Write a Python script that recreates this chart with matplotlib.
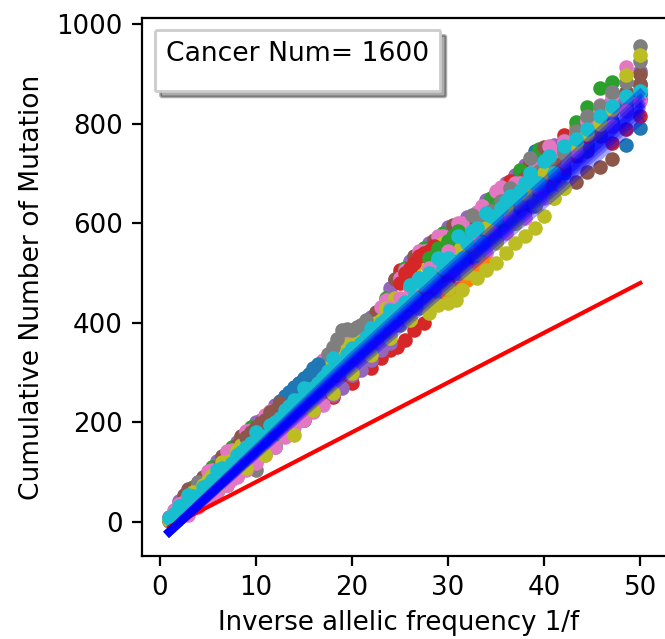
import matplotlib
matplotlib.use("Agg")
import matplotlib.pyplot as plt
from matplotlib.lines import Line2D

plt.rcParams['font.size'] = 9.35

# inverse allelic frequency columns, they get wider towards f=0.02
inv_f = [1, 2, 3, 4, 5, 6, 7, 8, 9, 10, 11, 12, 13, 14, 15, 16, 17, 18, 19, 20,
         21, 22, 23, 24, 25, 26, 27, 28, 29, 30, 31, 32, 33, 34, 35, 36, 37, 38, 39, 40,
         41, 42.1, 43.3, 44.5, 45.8, 47.1, 48.5, 50]
# denser columns further down
inv_f_mid = [1.5, 2.5, 3.5, 4.5, 5.5, 6.5, 7.5, 8.5, 9.5, 10.5, 11.5, 12.5, 13.5, 14.5, 15.5,
             16.5, 17.5, 18.5, 19.5, 20.5, 21.5, 22.5, 23.5, 24.5, 25.5, 26.5, 27.5, 28.5, 29.5, 30.5]
inv_f_high = [31.5, 32.5, 33.5, 34.5, 35.5, 36.5, 37.5, 38.5, 39.5, 40.5]
inv_f_end = [42.1, 43.3, 44.5, 45.8, 47.1, 48.5, 50]

# cumulative mutation counts, one list per dot colour
c_blue = [3, 25, 40, 68, 60, 85, 130, 150, 120, 135, 205, 225, 190, 208, 275, 292, 262, 280, 355, 330,
          345, 405, 420, 395, 410, 520, 470, 470, 565, 500, 520, 600, 550, 570, 660, 610, 690, 640, 744, 690,
          706, 730, 745, 770, 790, 847, 757, 791]
c_orange = [1, 10, 58, 50, 95, 115, 80, 100, 175, 190, 150, 170, 245, 260, 225, 245, 318, 338, 300, 375,
            390, 360, 375, 460, 410, 430, 535, 555, 480, 500, 595, 540, 560, 640, 585, 600, 625, 705, 660, 680,
            700, 724, 794, 760, 817, 800, 835, 860]
c_green = [8, 38, 30, 75, 48, 120, 140, 110, 130, 195, 160, 230, 180, 265, 230, 300, 255, 340, 310, 325,
           345, 408, 365, 400, 500, 440, 460, 555, 570, 500, 520, 605, 615, 565, 590, 675, 620, 640, 735, 670,
           750, 742, 804, 833, 871, 884, 860, 877]
c_red = [5, 20, 62, 40, 100, 68, 138, 105, 180, 145, 212, 175, 250, 205, 285, 250, 320, 280, 360, 310,
         392, 350, 428, 385, 505, 420, 542, 450, 572, 485, 590, 520, 618, 555, 660, 595, 692, 625, 700, 660,
         680, 777, 740, 755, 785, 800, 830, 850]
c_purple = [10, 42, 25, 80, 55, 122, 90, 160, 115, 200, 155, 235, 195, 270, 235, 305, 270, 345, 300, 382,
            340, 412, 360, 470, 405, 525, 435, 560, 470, 592, 505, 612, 540, 646, 575, 680, 697, 717, 650, 720,
            757, 750, 772, 790, 820, 840, 860, 880]
c_brown = [6, 30, 66, 35, 90, 110, 75, 155, 120, 175, 145, 225, 185, 240, 225, 290, 262, 325, 295, 384,
           335, 395, 350, 430, 400, 500, 440, 530, 465, 570, 500, 590, 535, 625, 570, 650, 605, 690, 720, 753,
           725, 767, 682, 703, 713, 729, 864, 900]
c_pink = [9, 36, 20, 72, 102, 60, 142, 95, 182, 125, 215, 165, 252, 195, 288, 235, 325, 270, 365, 305,
          395, 345, 432, 375, 490, 410, 545, 445, 575, 470, 600, 505, 622, 540, 665, 580, 680, 610, 710, 650,
          745, 760, 780, 805, 837, 855, 914, 870]
c_gray = [2, 15, 50, 80, 45, 100, 85, 125, 165, 105, 195, 150, 220, 258, 205, 275, 245, 310, 350, 295,
          330, 385, 345, 450, 395, 480, 430, 510, 460, 545, 500, 570, 535, 610, 565, 640, 600, 670, 635, 714,
          670, 750, 770, 795, 815, 864, 884, 956]
c_olive = [4, 28, 45, 60, 85, 75, 120, 145, 108, 170, 135, 205, 240, 175, 265, 225, 300, 260, 335, 300,
           370, 335, 405, 370, 440, 405, 480, 440, 520, 470, 550, 500, 540, 590, 560, 630, 600, 660, 640, 700,
           650, 670, 760, 780, 800, 830, 897, 937]
c_cyan = [7, 33, 55, 45, 75, 105, 100, 135, 150, 180, 165, 200, 225, 245, 270, 255, 290, 330, 320, 350,
          360, 390, 400, 425, 430, 475, 490, 500, 530, 530, 575, 560, 590, 620, 610, 645, 650, 680, 680, 725,
          700, 755, 770, 790, 815, 835, 855, 865]

m_green = [20, 30, 70, 60, 110, 100, 150, 140, 190, 170, 220, 200, 258, 240, 295,
           280, 330, 310, 370, 350, 400, 370, 450, 420, 510, 450, 550, 490, 580, 530]
m_purple = [10, 50, 45, 88, 80, 130, 115, 170, 155, 205, 190, 240, 225, 275, 260,
            312, 290, 350, 330, 385, 360, 420, 400, 485, 440, 530, 480, 565, 520, 595]
m_brown = [5, 54, 50, 91, 65, 132, 105, 172, 140, 200, 175, 243, 210, 279, 250,
           315, 280, 355, 315, 388, 350, 422, 385, 488, 425, 535, 465, 567, 505, 596]
m_pink = [24, 40, 35, 70, 105, 90, 145, 125, 185, 160, 222, 190, 260, 225, 290,
          265, 333, 300, 368, 335, 398, 365, 445, 400, 505, 440, 545, 475, 575, 510]
m_olive = [15, 25, 60, 75, 95, 120, 125, 155, 175, 185, 205, 215, 245, 255, 280,
           295, 310, 335, 355, 365, 380, 400, 430, 450, 480, 510, 520, 540, 560, 570]
m_cyan = [16, 34, 52, 70, 84, 108, 119, 140, 158, 172, 195, 208, 232, 244, 268,
          279, 303, 314, 338, 349, 372, 384, 408, 418, 441, 452, 476, 486, 510, 521]

h_blue = [590, 555, 620, 600, 660, 625, 700, 650, 730, 700]
h_red = [560, 610, 590, 640, 620, 685, 650, 720, 690, 745]
h_green = [540, 595, 570, 650, 600, 640, 707, 665, 748, 720]
h_pink = [600, 575, 634, 585, 672, 610, 680, 690, 670, 755]
h_gray = [575, 617, 600, 625, 645, 670, 640, 730, 705, 730]
h_cyan = [530, 585, 560, 615, 630, 655, 665, 700, 680, 735]

e_blue = [700, 745, 760, 790, 805, 840, 860]
e_red = [710, 735, 775, 810, 760, 790, 815]
e_purple = [725, 760, 790, 800, 825, 850, 905]
e_brown = [755, 770, 745, 775, 831, 864, 880]
e_pink = [765, 745, 805, 825, 795, 825, 845]
e_gray = [740, 785, 815, 835, 864, 884, 925]

# clusters that stand out along the upper edge
top_gray_x = [17.5, 18, 18.5, 19, 19.5, 20, 20.5, 21, 21.5]
top_gray_y = [338, 352, 368, 385, 388, 385, 392, 395, 405]
top_blue_x = [12.5, 13, 13.5, 14, 14.5, 15, 15.5, 16, 16.5]
top_blue_y = [240, 252, 262, 272, 280, 290, 298, 310, 318]
top_brown_x = [9, 9.5, 10, 10.5, 11, 11.5, 12, 12.5]
top_brown_y = [170, 180, 190, 198, 205, 220, 225, 238]
top_red_x = [25, 25.5, 26, 26.5, 27, 27.5, 28, 28.5]
top_red_y = [480, 500, 510, 520, 535, 540, 545, 555]
top_green_x = [28, 28.5, 29, 29.5, 30, 30.5, 31]
top_green_y = [530, 535, 550, 550, 565, 575, 585]
top_pink_x = [24, 25, 26, 27, 28, 29, 30]
top_pink_y = [430, 450, 470, 490, 510, 525, 545]

# dots that fall under the fitted lines
low_pink_x = [3, 4, 5, 6, 7, 7.4, 8, 9, 10, 11, 12, 13, 14, 15, 16, 17]
low_pink_y = [14, 30, 46, 60, 74, 84, 90, 104, 118, 135, 150, 170, 190, 205, 220, 235]
low_green_x = [6, 8, 10, 12, 13.6, 15, 16]
low_green_y = [62, 92, 122, 155, 178, 205, 225]
low_red_x = [18, 20, 22, 23, 24, 24.7, 25.5, 26.5, 27.5]
low_red_y = [250, 280, 310, 330, 345, 351, 365, 385, 400]
low_purple_x = [18, 19, 20, 21, 22, 23, 24]
low_purple_y = [255, 270, 295, 305, 325, 345, 360]
low_orange_x = [30, 31, 32, 33, 34]
low_orange_y = [455, 470, 486, 505, 520]
low_olive_x = [28, 29, 30, 30.8, 31.5, 33, 34, 35, 36, 37, 38, 39, 40, 41, 42.1]
low_olive_y = [420, 435, 440, 446, 465, 490, 505, 520, 540, 560, 575, 590, 615, 650, 670]

# fitted lines, drawn on top of the dots
fit_x = [1, 10, 20, 30, 40, 50]
fit_lines = [
    [-20, 134, 304, 472, 638, 806],
    [-20, 136, 310, 479, 647, 817],
    [-20, 138, 314, 485, 653, 825],
    [-20, 139, 317, 488, 658, 830],
    [-20, 140, 318, 490, 660, 833],
    [-20, 141, 319, 492, 662, 836],
    [-20, 142, 322, 495, 667, 841],
    [-20, 144, 326, 501, 673, 849],
    [-20, 146, 332, 508, 682, 860],
]
ref_x = [1, 50]
ref_y = [-10, 480]

W, H = 665, 639
fig = plt.figure(figsize=(W / 200, H / 200), dpi=200)
# axes placed from pixel positions, the right spine falls outside the crop
ax = fig.add_axes([142.3 / W, 1 - 555.7 / H, (667 - 142.3) / W, (555.7 - 18.3) / H])

layers = [
    (inv_f, c_blue, 'tab:blue'), (inv_f, c_orange, 'tab:orange'), (inv_f, c_green, 'tab:green'),
    (inv_f, c_red, 'tab:red'), (inv_f, c_purple, 'tab:purple'),
    (inv_f_high, h_blue, 'tab:blue'), (inv_f_high, h_red, 'tab:red'), (inv_f_high, h_green, 'tab:green'),
    (inv_f_end, e_blue, 'tab:blue'), (inv_f_end, e_red, 'tab:red'), (inv_f_end, e_purple, 'tab:purple'),
    (inv_f_mid, m_green, 'tab:green'), (inv_f_mid, m_purple, 'tab:purple'), (inv_f_mid, m_brown, 'tab:brown'),
    (inv_f, c_brown, 'tab:brown'), (inv_f, c_pink, 'tab:pink'), (inv_f, c_gray, 'tab:gray'),
    (inv_f_end, e_brown, 'tab:brown'), (inv_f_end, e_pink, 'tab:pink'), (inv_f_end, e_gray, 'tab:gray'),
    (inv_f_high, h_pink, 'tab:pink'), (inv_f_high, h_gray, 'tab:gray'),
    (low_green_x, low_green_y, 'tab:green'), (low_red_x, low_red_y, 'tab:red'),
    (low_purple_x, low_purple_y, 'tab:purple'), (low_orange_x, low_orange_y, 'tab:orange'),
    (low_pink_x, low_pink_y, 'tab:pink'), (low_olive_x, low_olive_y, 'tab:olive'),
    (inv_f_mid, m_pink, 'tab:pink'), (inv_f_mid, m_olive, 'tab:olive'), (inv_f, c_olive, 'tab:olive'),
    (top_gray_x, top_gray_y, 'tab:gray'), (top_blue_x, top_blue_y, 'tab:blue'),
    (top_brown_x, top_brown_y, 'tab:brown'), (top_red_x, top_red_y, 'tab:red'),
    (top_green_x, top_green_y, 'tab:green'), (top_pink_x, top_pink_y, 'tab:pink'),
    (inv_f, c_cyan, 'tab:cyan'), (inv_f_mid, m_cyan, 'tab:cyan'), (inv_f_high, h_cyan, 'tab:cyan'),
]
for xs, ys, col in layers:
    ax.scatter(xs, ys, s=18, color=col, zorder=2)

ax.plot(ref_x, ref_y, color='r', lw=1.5, zorder=3)
for vals in fit_lines:
    ax.plot(fit_x, vals, color='b', lw=3, alpha=0.35, zorder=4)

ax.set_xlim(-1.8, 52.78)
ax.set_ylim(-67.7, 1011.4)
ax.set_xticks([0, 10, 20, 30, 40, 50])
ax.set_yticks([0, 200, 400, 600, 800, 1000])
ax.set_xlabel('Inverse allelic frequency 1/f', labelpad=3.3, x=0.488)
ax.set_ylabel('Cumulative Number of Mutation', labelpad=4, fontsize=9.55)

# blank row under the title keeps the box as tall as in the reference
blank = Line2D([], [], ls='none', label=' ')
ax.legend(handles=[blank], title='Cancer Num= 1600', shadow={'color': 'k', 'alpha': 0.33}, loc='upper left',
          bbox_to_anchor=(0.002, 1.0), fontsize=3, title_fontsize=9.6,
          borderpad=1.33, borderaxespad=1.4)

fig.savefig('out.png', dpi=200)
